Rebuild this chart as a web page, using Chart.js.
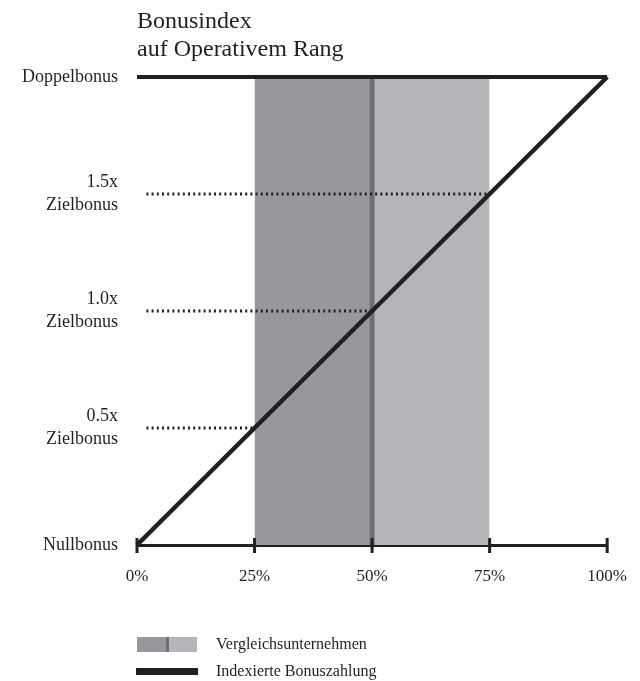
<!DOCTYPE html>
<html>
<head>
<meta charset="utf-8">
<script src="https://cdn.jsdelivr.net/npm/chart.js@4"></script>
<style>
  body { margin: 0; background: #fff; }
</style>
</head>
<body>
<canvas id="bonusChart" width="640" height="681"></canvas>
<script>
// rank percentiles and bonus levels
const rankTicks = [0, 25, 50, 75, 100];
const bonusLevels = [0, 0.5, 1, 1.5, 2];
const bonusLabels = ['Nullbonus', ['0.5x', 'Zielbonus'], ['1.0x', 'Zielbonus'], ['1.5x', 'Zielbonus'], 'Doppelbonus'];
const titleLines = ['Bonusindex', 'auf Operativem Rang'];

// peer group band (lower half / upper half) and median
const peerLower = [25, 50];
const peerUpper = [50, 75];
const peerMedian = 50;
const dottedStart = 2;

const legendLabels = ['Vergleichsunternehmen', 'Indexierte Bonuszahlung'];

const FONT = '"Liberation Serif", "Times New Roman", serif';
const INK = '#231f20';
const DARK_BAND = '#97989c';
const LIGHT_BAND = '#b4b5b9';
const MEDIAN = '#6f7073';

// the bonus line: 0% -> Nullbonus, 100% -> Doppelbonus
const bonusLine = rankTicks.map((r, i) => ({ x: r, y: bonusLevels[i] }));

// dotted guides from the label to where the bonus line crosses the level
const guides = [1, 2, 3].map(i => ({
  label: 'guide' + i,
  data: [{ x: dottedStart, y: bonusLevels[i] }, { x: rankTicks[i], y: bonusLevels[i] }],
  borderColor: INK,
  borderWidth: 3,
  borderDash: [2, 3.2],
  pointRadius: 0,
  fill: false
}));

const topY = bonusLevels[bonusLevels.length - 1];
const bottomY = bonusLevels[0];

const datasets = [
  {
    label: 'Indexierte Bonuszahlung',
    data: bonusLine,
    borderColor: INK,
    borderWidth: 4.5,
    pointRadius: 0,
    fill: false,
    clip: false
  },
  {
    label: 'top',
    data: [{ x: 0, y: topY }, { x: 100, y: topY }],
    borderColor: INK,
    borderWidth: 4,
    pointRadius: 0,
    fill: false,
    clip: false
  },
  ...guides,
  {
    label: 'median',
    data: [{ x: peerMedian, y: bottomY }, { x: peerMedian, y: topY }],
    borderColor: MEDIAN,
    borderWidth: 5,
    pointRadius: 0,
    fill: false
  },
  {
    label: 'lower',
    data: peerLower.map(x => ({ x: x, y: topY })),
    borderWidth: 0,
    backgroundColor: DARK_BAND,
    pointRadius: 0,
    fill: 'origin'
  },
  {
    label: 'upper',
    data: peerUpper.map(x => ({ x: x, y: topY })),
    borderWidth: 0,
    backgroundColor: LIGHT_BAND,
    pointRadius: 0,
    fill: 'origin'
  }
];

// title, tick marks on the x axis and the legend
const extras = {
  id: 'extras',
  afterDraw(chart) {
    const ctx = chart.ctx;
    const x = chart.scales.x;
    const area = chart.chartArea;
    ctx.save();

    // title
    ctx.fillStyle = INK;
    ctx.font = '24px ' + FONT;
    ctx.textAlign = 'left';
    ctx.textBaseline = 'alphabetic';
    ctx.fillText(titleLines[0], area.left, 28);
    ctx.fillText(titleLines[1], area.left, 56);

    // tick marks crossing the axis
    ctx.strokeStyle = INK;
    ctx.lineWidth = 3;
    rankTicks.forEach(r => {
      const px = x.getPixelForValue(r);
      ctx.beginPath();
      ctx.moveTo(px, area.bottom - 7);
      ctx.lineTo(px, area.bottom + 8);
      ctx.stroke();
    });

    // legend
    const lx = area.left;
    ctx.fillStyle = DARK_BAND;
    ctx.fillRect(lx, 637, 30, 15);
    ctx.fillStyle = LIGHT_BAND;
    ctx.fillRect(lx + 30, 637, 30, 15);
    ctx.fillStyle = MEDIAN;
    ctx.fillRect(lx + 29, 637, 3, 15);
    ctx.fillStyle = INK;
    ctx.fillRect(lx - 1, 668, 62, 7);

    ctx.font = '16px ' + FONT;
    ctx.textBaseline = 'middle';
    ctx.fillText(legendLabels[0], 216, 645);
    ctx.fillText(legendLabels[1], 216, 672);
    ctx.restore();
  }
};

const ctx = document.getElementById('bonusChart').getContext('2d');
const bonusChart = new Chart(ctx, {
  type: 'line',
  data: { datasets: datasets },
  plugins: [extras],
  options: {
    responsive: false,
    animation: false,
    layout: { padding: { top: 77, right: 31, left: 0, bottom: 0 } },
    plugins: {
      legend: { display: false },
      tooltip: { enabled: false },
      title: { display: false }
    },
    scales: {
      x: {
        type: 'linear',
        min: 0,
        max: 100,
        afterBuildTicks: scale => { scale.ticks = rankTicks.map(v => ({ value: v })); },
        afterFit: scale => { scale.height = 136; },
        grid: { display: false },
        border: { display: true, color: INK, width: 3 },
        ticks: {
          color: INK,
          padding: 13,
          font: { family: FONT, size: 17 },
          callback: v => v + '%'
        }
      },
      y: {
        type: 'linear',
        min: 0,
        max: 2,
        afterBuildTicks: scale => { scale.ticks = bonusLevels.map(v => ({ value: v })); },
        afterFit: scale => { scale.width = 137; },
        grid: { display: false },
        border: { display: false },
        ticks: {
          color: INK,
          padding: 11,
          font: { family: FONT, size: 18, lineHeight: 1.25 },
          callback: (v, i) => bonusLabels[i]
        }
      }
    }
  }
});
</script>
</body>
</html>
